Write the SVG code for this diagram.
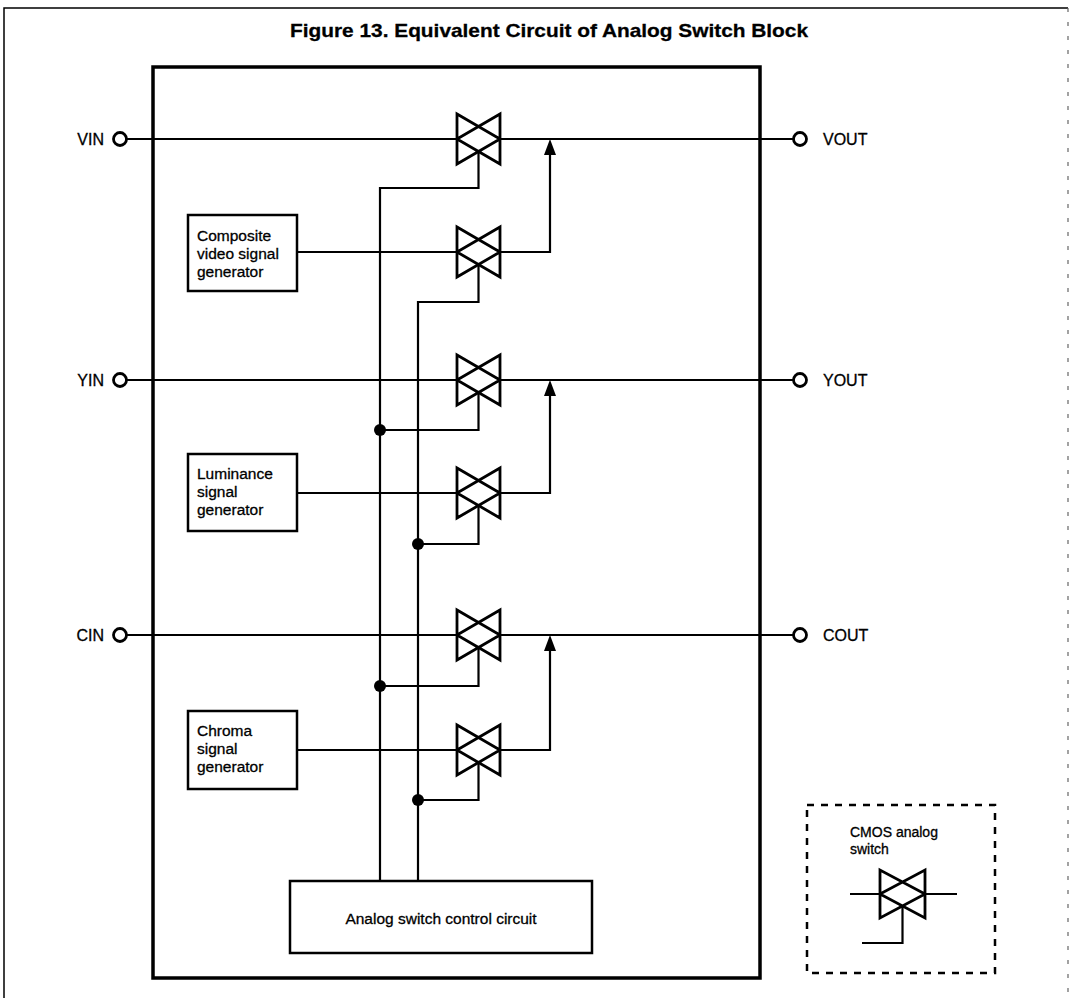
<svg xmlns="http://www.w3.org/2000/svg" width="1072" height="998" viewBox="0 0 1072 998">
<style>
text{font-family:"Liberation Sans",Arial,sans-serif;fill:#000;stroke:#000;stroke-width:0.3}
.w{fill:none;stroke:#000;stroke-width:2.2}
.box{fill:#fff;stroke:#000;stroke-width:2.5}
.sw{fill:none;stroke:#000;stroke-width:2.8;stroke-linejoin:miter}
.pin{fill:#fff;stroke:#000;stroke-width:2.8}
.dot{fill:#000}
.ah{fill:#000}
.lbl{font-size:16px}
.gen{font-size:15.5px}
</style>
<defs>
<path id="tg" d="M-21.5,-25 V25 L21.5,0 Z M21.5,-25 V25 L-21.5,0 Z" class="sw"/>
</defs>
<rect width="1072" height="998" fill="#fff"/>
<g id="frame">
<path d="M4,998 V8 H1068" fill="none" stroke="#000" stroke-width="1.5"/>
<path d="M1068,8 V998" fill="none" stroke="#666" stroke-width="1.2" stroke-dasharray="4 10"/>
</g>
<text id="title" x="549" y="37" text-anchor="middle" font-size="19" font-weight="bold" textLength="518" lengthAdjust="spacingAndGlyphs">Figure 13.  Equivalent Circuit of Analog Switch Block</text>
<g id="block">
<rect x="153" y="67" width="607" height="911" fill="none" stroke="#000" stroke-width="3.5"/>
</g>
<g id="connectors">
<path class="w" d="M127,139 H457 M500,139 H793"/>
<path class="w" d="M127,380 H457 M500,380 H793"/>
<path class="w" d="M127,635 H457 M500,635 H793"/>
<path class="w" d="M297,252 H457 M500,252 H550 V150"/>
<path class="w" d="M297,493 H457 M500,493 H550 V391"/>
<path class="w" d="M297,750 H457 M500,750 H550 V646"/>
<polygon class="ah" points="550,139 544,155 556,155"/>
<polygon class="ah" points="550,380 544,396 556,396"/>
<polygon class="ah" points="550,635 544,651 556,651"/>
<path class="w" d="M478.5,151.5 V188 H380 V881"/>
<path class="w" d="M478.5,264.5 V302 H418 V881"/>
<path class="w" d="M478.5,392.5 V430 H380"/>
<path class="w" d="M478.5,505.5 V544 H418"/>
<path class="w" d="M478.5,647.5 V686 H380"/>
<path class="w" d="M478.5,762.5 V800 H418"/>
<circle class="dot" cx="380" cy="430" r="6"/>
<circle class="dot" cx="418" cy="544" r="6"/>
<circle class="dot" cx="380" cy="686" r="6"/>
<circle class="dot" cx="418" cy="800" r="6"/>
</g>
<g id="pins">
<g id="vin"><circle class="pin" cx="120" cy="139" r="6.5"/><text class="lbl" x="104" y="145" text-anchor="end">VIN</text></g>
<g id="yin"><circle class="pin" cx="120" cy="380" r="6.5"/><text class="lbl" x="104" y="386" text-anchor="end">YIN</text></g>
<g id="cin"><circle class="pin" cx="120" cy="635" r="6.5"/><text class="lbl" x="104" y="641" text-anchor="end">CIN</text></g>
<g id="vout"><circle class="pin" cx="800" cy="139" r="6.5"/><text class="lbl" x="823" y="145">VOUT</text></g>
<g id="yout"><circle class="pin" cx="800" cy="380" r="6.5"/><text class="lbl" x="823" y="386">YOUT</text></g>
<g id="cout"><circle class="pin" cx="800" cy="635" r="6.5"/><text class="lbl" x="823" y="641">COUT</text></g>
</g>
<g id="switches">
<use id="sw1" href="#tg" x="478.5" y="139"/>
<use id="sw2" href="#tg" x="478.5" y="252"/>
<use id="sw3" href="#tg" x="478.5" y="380"/>
<use id="sw4" href="#tg" x="478.5" y="493"/>
<use id="sw5" href="#tg" x="478.5" y="635"/>
<use id="sw6" href="#tg" x="478.5" y="750"/>
</g>
<g id="composite">
<rect class="box" x="188" y="215" width="109" height="76"/>
<text class="gen" x="197" y="241">Composite</text>
<text class="gen" x="197" y="259">video signal</text>
<text class="gen" x="197" y="277">generator</text>
</g>
<g id="luminance">
<rect class="box" x="188" y="454" width="109" height="77"/>
<text class="gen" x="197" y="479">Luminance</text>
<text class="gen" x="197" y="497">signal</text>
<text class="gen" x="197" y="515">generator</text>
</g>
<g id="chroma">
<rect class="box" x="188" y="711" width="109" height="78"/>
<text class="gen" x="197" y="736">Chroma</text>
<text class="gen" x="197" y="754">signal</text>
<text class="gen" x="197" y="772">generator</text>
</g>
<g id="control">
<rect class="box" x="290" y="881" width="302" height="72"/>
<text x="441" y="924" text-anchor="middle" font-size="15.5">Analog switch control circuit</text>
</g>
<g id="legend">
<rect x="807" y="805" width="188" height="168" fill="none" stroke="#000" stroke-width="2.5" stroke-dasharray="7 7"/>
<text x="850" y="837" font-size="14">CMOS analog</text>
<text x="850" y="854" font-size="14">switch</text>
<path class="w" d="M850,894 H880 M925,894 H957 M902.5,906 V943 H862"/>
<path class="sw" d="M880,870 V918 L925,894 Z M925,870 V918 L880,894 Z"/>
</g>
</svg>
